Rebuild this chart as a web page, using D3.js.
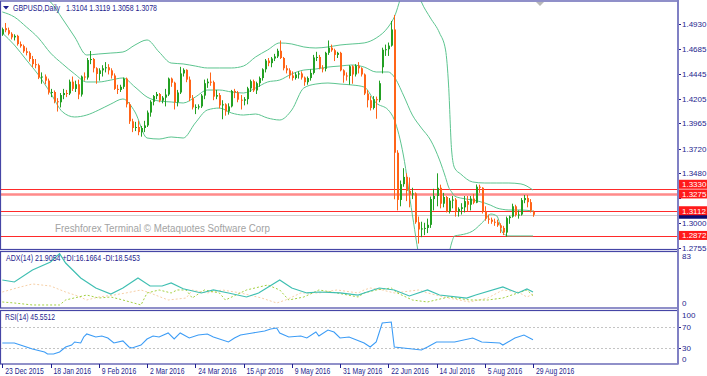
<!DOCTYPE html>
<html lang="en">
<head>
<meta charset="UTF-8">
<title>GBPUSD Daily</title>
<style>
    body { margin: 0; background: #fff; }
    svg { display: block; font-family: "Liberation Sans", Arial, sans-serif; }
</style>
</head>
<body>
<div id="chart"></div>
<script src="https://d3js.org/d3.v7.min.js"></script>
<script>

// daily bars, index 0 = 23 Dec 2015 ... index 176 = 29 Aug 2016
const opens = [
    1.4830,1.4890,1.4870,1.4835,1.4800,1.4815,1.4735,1.4715,1.4665,1.4650,
    1.4590,1.4540,1.4530,1.4410,1.4420,1.4380,1.4265,1.4270,1.4180,1.4170,
    1.4240,1.4260,1.4255,1.4370,1.4300,1.4345,1.4245,1.4420,1.4410,1.4580,
    1.4590,1.4500,1.4445,1.4480,1.4500,1.4510,1.4480,1.4430,1.4300,1.4290,
    1.4320,1.4400,1.4150,1.3985,1.3920,1.3930,1.3880,1.3920,1.3945,1.4070,
    1.4175,1.4230,1.4250,1.4185,1.4215,1.4245,1.4400,1.4360,1.4170,1.4265,
    1.4450,1.4485,1.4390,1.4210,1.4120,1.4125,1.4130,1.4235,1.4355,1.4370,
    1.4365,1.4225,1.4240,1.4140,1.4150,1.4080,1.4130,1.4280,1.4265,1.4195,
    1.4185,1.4200,1.4305,1.4375,1.4285,1.4355,1.4405,1.4490,1.4575,1.4550,
    1.4595,1.4615,1.4670,1.4600,1.4500,1.4480,1.4430,1.4405,1.4440,1.4450,
    1.4410,1.4365,1.4405,1.4455,1.4605,1.4610,1.4500,1.4495,1.4650,1.4700,
    1.4675,1.4630,1.4650,1.4480,1.4430,1.4425,1.4520,1.4440,1.4525,1.4500,
    1.4440,1.4255,1.4190,1.4115,1.4200,1.4190,1.4510,1.4680,1.4685,1.4720,
    1.4877,1.3680,1.3222,1.3375,1.3445,1.3310,1.3275,1.3285,1.3005,1.2935,
    1.2945,1.2950,1.2980,1.3230,1.3260,1.3340,1.3185,1.3250,1.3110,1.3215,
    1.3225,1.3110,1.3135,1.3150,1.3210,1.3175,1.3235,1.3195,1.3350,1.3340,
    1.3110,1.3040,1.3030,1.3010,1.3005,1.2975,1.2950,1.2905,1.3045,1.3060,
    1.3160,1.3075,1.3080,1.3220,1.3240,1.3200,1.3104];
const highs = [
    1.4895,1.4940,1.4895,1.4850,1.4830,1.4825,1.4760,1.4730,1.4700,1.4665,
    1.4620,1.4590,1.4545,1.4460,1.4440,1.4400,1.4300,1.4285,1.4210,1.4260,
    1.4300,1.4290,1.4390,1.4420,1.4380,1.4390,1.4430,1.4460,1.4600,1.4668,
    1.4600,1.4510,1.4500,1.4530,1.4560,1.4540,1.4500,1.4450,1.4340,1.4340,
    1.4410,1.4410,1.4170,1.4010,1.3980,1.3990,1.3940,1.3990,1.4090,1.4190,
    1.4240,1.4270,1.4260,1.4230,1.4300,1.4410,1.4410,1.4370,1.4290,1.4514,
    1.4500,1.4490,1.4420,1.4240,1.4150,1.4150,1.4250,1.4390,1.4400,1.4459,
    1.4380,1.4290,1.4260,1.4190,1.4160,1.4160,1.4290,1.4300,1.4280,1.4240,
    1.4220,1.4320,1.4390,1.4390,1.4370,1.4420,1.4500,1.4590,1.4600,1.4610,
    1.4640,1.4690,1.4770,1.4610,1.4530,1.4500,1.4470,1.4460,1.4470,1.4470,
    1.4420,1.4420,1.4490,1.4630,1.4660,1.4630,1.4530,1.4660,1.4770,1.4730,
    1.4690,1.4660,1.4660,1.4490,1.4460,1.4530,1.4530,1.4540,1.4560,1.4510,
    1.4450,1.4290,1.4230,1.4230,1.4225,1.4380,1.4700,1.4730,1.4750,1.4960,
    1.5018,1.3705,1.3410,1.3530,1.3480,1.3440,1.3340,1.3295,1.3060,1.3010,
    1.3000,1.3040,1.3255,1.3330,1.3480,1.3370,1.3290,1.3260,1.3240,1.3260,
    1.3240,1.3150,1.3190,1.3260,1.3260,1.3260,1.3280,1.3372,1.3370,1.3345,
    1.3160,1.3080,1.3050,1.3040,1.3030,1.2995,1.2970,1.3060,1.3070,1.3185,
    1.3175,1.3120,1.3240,1.3270,1.3270,1.3230,1.3119];
const lows = [
    1.4815,1.4850,1.4820,1.4780,1.4770,1.4720,1.4700,1.4650,1.4625,1.4565,
    1.4510,1.4500,1.4395,1.4350,1.4345,1.4245,1.4220,1.4160,1.4080,1.4120,
    1.4200,1.4220,1.4240,1.4280,1.4270,1.4200,1.4225,1.4380,1.4390,1.4540,
    1.4460,1.4350,1.4380,1.4420,1.4460,1.4440,1.4400,1.4290,1.4250,1.4270,
    1.4300,1.4120,1.3960,1.3880,1.3890,1.3850,1.3836,1.3880,1.3930,1.4030,
    1.4140,1.4200,1.4170,1.4160,1.4130,1.4230,1.4320,1.4100,1.4130,1.4250,
    1.4420,1.4365,1.4180,1.4100,1.4055,1.4100,1.4115,1.4200,1.4310,1.4330,
    1.4190,1.4200,1.4110,1.4005,1.4040,1.4050,1.4120,1.4210,1.4170,1.4100,
    1.4140,1.4150,1.4270,1.4270,1.4250,1.4320,1.4380,1.4460,1.4520,1.4510,
    1.4570,1.4600,1.4590,1.4480,1.4450,1.4400,1.4380,1.4390,1.4400,1.4390,
    1.4330,1.4340,1.4380,1.4440,1.4570,1.4490,1.4460,1.4470,1.4630,1.4660,
    1.4570,1.4600,1.4470,1.4360,1.4380,1.4340,1.4350,1.4420,1.4450,1.4420,
    1.4240,1.4120,1.4090,1.4100,1.4010,1.4170,1.4450,1.4620,1.4620,1.4710,
    1.3228,1.3120,1.3160,1.3350,1.3210,1.3150,1.3230,1.2990,1.2798,1.2860,
    1.2880,1.2900,1.2950,1.3120,1.3160,1.3140,1.3150,1.3100,1.3090,1.3140,
    1.3060,1.3060,1.3080,1.3100,1.3110,1.3120,1.3180,1.3190,1.3290,1.3090,
    1.3020,1.2990,1.2990,1.2970,1.2960,1.2900,1.2880,1.2865,1.2990,1.3050,
    1.3060,1.3040,1.3070,1.3190,1.3150,1.3100,1.3058];
const closes = [
    1.4880,1.4870,1.4835,1.4800,1.4815,1.4735,1.4715,1.4665,1.4650,1.4590,
    1.4540,1.4530,1.4410,1.4420,1.4380,1.4265,1.4270,1.4180,1.4170,1.4240,
    1.4260,1.4255,1.4370,1.4300,1.4345,1.4245,1.4420,1.4410,1.4580,1.4590,
    1.4500,1.4445,1.4480,1.4500,1.4510,1.4480,1.4430,1.4300,1.4290,1.4320,
    1.4400,1.4150,1.3985,1.3920,1.3930,1.3880,1.3920,1.3945,1.4070,1.4175,
    1.4230,1.4250,1.4185,1.4215,1.4245,1.4400,1.4360,1.4170,1.4265,1.4450,
    1.4485,1.4390,1.4210,1.4120,1.4125,1.4130,1.4235,1.4355,1.4370,1.4365,
    1.4225,1.4240,1.4140,1.4150,1.4080,1.4130,1.4280,1.4265,1.4195,1.4185,
    1.4200,1.4305,1.4375,1.4285,1.4355,1.4405,1.4490,1.4575,1.4550,1.4595,
    1.4615,1.4670,1.4600,1.4500,1.4480,1.4430,1.4405,1.4440,1.4450,1.4410,
    1.4365,1.4405,1.4455,1.4605,1.4610,1.4500,1.4495,1.4650,1.4700,1.4675,
    1.4630,1.4650,1.4480,1.4430,1.4425,1.4520,1.4440,1.4525,1.4500,1.4440,
    1.4255,1.4190,1.4115,1.4200,1.4190,1.4355,1.4680,1.4685,1.4720,1.4877,
    1.3680,1.3222,1.3375,1.3445,1.3310,1.3275,1.3285,1.3005,1.2935,1.2945,
    1.2950,1.2980,1.3230,1.3260,1.3340,1.3185,1.3250,1.3110,1.3215,1.3225,
    1.3110,1.3135,1.3150,1.3210,1.3175,1.3235,1.3195,1.3350,1.3340,1.3110,
    1.3040,1.3030,1.3010,1.3005,1.2975,1.2950,1.2905,1.3045,1.3060,1.3160,
    1.3075,1.3080,1.3220,1.3240,1.3200,1.3120,1.3078];

// Bollinger bands (20, 2) at these bar indices
const bandIdx = [0,4,8,12,16,20,24,28,32,36,40,44,48,52,56,60,64,68,72,76,80,84,88,92,96,100,104,108,112,116,120,124,128,
    130,133,136,139,142,145,147,148,149,150,152,156,160,162,164,166,168,172,176];
const bandUpper = [1.5280,1.5270,1.5250,1.5212,1.5144,1.4979,1.4804,1.4629,1.4639,1.4648,1.4658,1.4726,1.4775,1.4658,1.4551,1.4542,
    1.4522,1.4503,1.4503,1.4503,1.4522,1.4610,1.4678,1.4746,1.4736,1.4707,1.4697,1.4707,1.4726,1.4736,1.4746,1.4794,1.4901,
    1.4998,1.5260,1.5406,1.5144,1.4988,1.4843,1.4678,1.4338,1.3707,1.3532,1.3474,1.3396,1.3386,1.3386,1.3386,1.3386,1.3386,1.3377,1.3318];
const bandMiddle = [1.5047,1.4998,1.4901,1.4794,1.4648,1.4542,1.4445,1.4367,1.4367,1.4386,1.4406,1.4318,1.4221,1.4182,1.4173,1.4163,
    1.4221,1.4289,1.4289,1.4270,1.4260,1.4309,1.4367,1.4386,1.4445,1.4483,1.4493,1.4512,1.4522,1.4532,1.4512,1.4464,1.4464,
    1.4415,1.4241,1.4046,1.3920,1.3804,1.3610,1.3440,1.3347,1.3300,1.3260,1.3240,1.3221,1.3192,1.3170,1.3143,1.3130,1.3124,1.3124,1.3114];
const bandLower = [1.4843,1.4726,1.4580,1.4435,1.4260,1.4076,1.4027,1.4046,1.4095,1.4153,1.4202,1.4076,1.3823,1.3813,1.3833,1.3823,
    1.3969,1.4095,1.4114,1.4066,1.4046,1.4056,1.4017,1.3998,1.4095,1.4309,1.4347,1.4357,1.4347,1.4338,1.4318,1.4163,1.4095,
    1.4000,1.3658,1.3076,1.2560,1.2400,1.2440,1.2600,1.2687,1.2803,1.2872,1.2882,1.2920,1.3027,1.3085,1.3066,1.2901,1.2872,1.2872,1.2872];

// ADX(14) panel
const adxIdx = [0,4,10,16,19,21,26,31,36,40,45,49,53,56,60,66,70,75,81,85,92,96,101,105,112,118,120,125,130,135,141,145,154,157,166,171,174,176];
const adxVals = [40.7,37.6,56.4,68.9,82.0,67.3,43.8,28.2,18.8,28.2,43.8,31.3,31.3,36.0,27.0,20.4,25.1,20.4,14.1,20.4,
    40.7,28.2,20.4,21.9,20.4,17.2,20.4,28.2,25.1,15.7,25.1,17.2,12.5,17.2,29.8,20.4,26.6,21.9];
const plusIdx = [0,4,10,19,21,28,32,36,40,46,48,52,56,58,61,63,67,72,74,81,88,92,95,100,105,111,118,120,124,129,131,136,141,148,155,161,166,171,174,176];
const plusDI = [6.3,4.7,1.6,1.6,9.4,17.2,12.5,14.1,9.4,1.6,20.4,25.1,20.4,25.1,25.1,12.5,25.1,20.4,9.4,25.1,
    32.9,25.1,9.4,14.1,25.1,20.4,14.1,20.4,25.1,28.2,20.4,9.4,6.3,14.1,9.4,9.4,12.5,20.4,25.1,16.2];
const minusIdx = [0,6,10,16,21,25,28,32,37,41,46,49,55,61,63,68,73,79,86,91,94,99,105,111,118,120,122,126,130,138,141,148,155,161,166,171,174,176];
const minusDI = [21.9,29.8,34.5,31.3,21.9,15.7,9.4,14.1,17.2,20.4,25.1,20.4,9.4,12.5,25.1,20.4,25.1,20.4,12.5,4.7,
    9.4,20.4,20.4,25.1,20.4,25.1,28.2,25.1,20.4,25.1,20.4,12.5,6.3,12.5,25.1,21.9,14.1,18.5];

// RSI(14) panel
const rsiIdx = [0,4,8,10,14,15,17,19,21,23,24,26,27,28,31,33,35,37,40,42,43,46,48,50,52,55,57,59,62,65,68,70,75,77,79,83,87,89,91,92,
    95,99,101,104,105,108,110,112,115,120,122,124,126,129,130,133,139,141,144,150,156,159,165,166,170,173,176];
const rsiVals = [39.4,39.4,31.9,28.1,22.5,18.8,18.8,22.5,31.9,35.6,41.3,39.4,50.7,56.3,50.7,52.5,48.8,39.4,43.2,31.9,
    30.0,35.6,46.9,52.5,50.7,58.2,46.9,58.2,48.8,54.4,56.3,50.7,41.3,48.8,54.4,58.2,61.9,65.7,67.5,58.2,
    50.7,52.5,48.8,60.0,52.5,63.8,60.0,48.8,50.7,39.4,31.9,41.3,76.9,78.8,31.9,30.0,26.3,31.9,41.3,41.3,
    48.8,41.3,39.4,35.6,48.8,54.4,45.6];

// axes
const priceTicks = [1.4930,1.4685,1.4445,1.4205,1.3965,1.3720,1.3480,1.3240,1.3000,1.2755];
const hiddenTick = 1.3240; // covered by the price tags on the chart
const dateIdx = [0,16,32,48,64,80,96,112,128,144,160,176];
const dateLabels = ["23 Dec 2015","18 Jan 2016","9 Feb 2016","2 Mar 2016","24 Mar 2016","15 Apr 2016",
    "9 May 2016","31 May 2016","22 Jun 2016","14 Jul 2016","5 Aug 2016","29 Aug 2016"];
const levels = [1.3330, 1.3275, 1.3112, 1.2872];
const bid = 1.3078;
const title = "GBPUSD,Daily";
const titleQuote = "1.3104 1.3119 1.3058 1.3078";
const adxLabel = "ADX(14) 21.9054 +DI:16.1664 -DI:18.5453";
const rsiLabel = "RSI(14) 45.5512";

const W = 707, H = 376;
const axisX = 678;
const frame = "#4646a6", textCol = "#1e1e8e";
const bull = "#23a023", bear = "#ff6418";

// terminal font is narrow: squeeze a text to a given width
function fit(sel, width) {
    sel.attr("textLength", width).attr("lengthAdjust", "spacingAndGlyphs");
    return sel;
}

const svg = d3.select("#chart").append("svg")
    .attr("width", W).attr("height", H);

// panels: main, adx, rsi
const pMain = { top: 1, bottom: 249.5 };
const pAdx = { top: 251.5, bottom: 308 };
const pRsi = { top: 310.5, bottom: 364 };

const x = d3.scaleLinear().domain([0, 176]).range([2.3, 533]);
const y = d3.scaleLinear().domain([1.2755, 1.4930]).range([248, 24]);
const yAdx = d3.scaleLinear().domain([0, 83]).range([306, 253]);
const yRsi = d3.scaleLinear().domain([0, 100]).range([364, 310.7]);

const defs = svg.append("defs");
[["clipMain", pMain], ["clipAdx", pAdx], ["clipRsi", pRsi]].forEach(([id, p]) => {
    defs.append("clipPath").attr("id", id).append("rect")
        .attr("x", 1).attr("y", p.top + 0.5)
        .attr("width", axisX - 1).attr("height", p.bottom - p.top - 1);
});

// ---------- main panel ----------
const gMain = svg.append("g").attr("clip-path", "url(#clipMain)");

// watermark
fit(gMain.append("text")
    .attr("x", 55).attr("y", 232)
    .attr("fill", "#a3a3a3").style("font-size", "10.5px")
    .text("Freshforex Terminal \u00a9 Metaquotes Software Corp"), 215);

// bid line
gMain.append("line")
    .attr("x1", 1).attr("x2", axisX)
    .attr("y1", Math.round(y(bid)) + 0.5).attr("y2", Math.round(y(bid)) + 0.5)
    .attr("stroke", "#cfcfcf");

// horizontal levels
gMain.selectAll("line.level").data(levels).join("line")
    .attr("class", "level")
    .attr("x1", 1).attr("x2", axisX)
    .attr("y1", d => Math.round(y(d)) + 0.5).attr("y2", d => Math.round(y(d)) + 0.5)
    .attr("stroke", (d, i) => i === 1 ? "#ff8a8a" : "#ff2a2a")
    .attr("stroke-width", (d, i) => i === 1 ? 2.5 : 1);

// bollinger bands
const bandLine = vals => d3.line()
    .x((d, i) => x(bandIdx[i]))
    .y((d, i) => y(vals[i]))
    .curve(d3.curveMonotoneX)(vals);
[bandUpper, bandMiddle, bandLower].forEach(vals => {
    gMain.append("path")
        .attr("d", bandLine(vals))
        .attr("fill", "none")
        .attr("stroke", "#5cc48f")
        .attr("stroke-width", 1);
});

// candles
const bars = closes.map((c, i) => ({ i, o: opens[i], h: highs[i], l: lows[i], c }));
const gBars = gMain.append("g");
gBars.selectAll("line").data(bars).join("line")
    .attr("x1", d => Math.round(x(d.i)) + 0.5).attr("x2", d => Math.round(x(d.i)) + 0.5)
    .attr("y1", d => y(d.h)).attr("y2", d => y(d.l))
    .attr("stroke", d => d.c >= d.o ? bull : bear);
gBars.selectAll("rect").data(bars).join("rect")
    .attr("x", d => Math.round(x(d.i)))
    .attr("width", 2)
    .attr("y", d => y(Math.max(d.o, d.c)))
    .attr("height", d => Math.max(1, Math.abs(y(d.o) - y(d.c))))
    .attr("fill", d => d.c >= d.o ? bull : bear);

// title
svg.append("path").attr("d", "M3,6 L9,6 L6,9.5 Z").attr("fill", textCol);
fit(svg.append("text").attr("x", 13).attr("y", 11)
    .attr("fill", textCol).style("font-size", "8.5px")
    .text(title), 47);
fit(svg.append("text").attr("x", 66).attr("y", 11)
    .attr("fill", textCol).style("font-size", "8.5px")
    .text(titleQuote), 91);

// chart shift marker
svg.append("path").attr("d", "M536,2 L544,2 L540,6 Z").attr("fill", "#b8b8b8");

// ---------- ADX panel ----------
const gAdx = svg.append("g").attr("clip-path", "url(#clipAdx)");
const lineOf = (idx, ys) => d3.line().x((d, i) => x(idx[i])).y(d => ys(d));
gAdx.append("path")
    .attr("d", lineOf(minusIdx, yAdx)(minusDI))
    .attr("fill", "none").attr("stroke", "#f6cfa6").attr("stroke-dasharray", "2,2");
gAdx.append("path")
    .attr("d", lineOf(plusIdx, yAdx)(plusDI))
    .attr("fill", "none").attr("stroke", "#a3d040").attr("stroke-dasharray", "2,2");
gAdx.append("path")
    .attr("d", lineOf(adxIdx, yAdx)(adxVals))
    .attr("fill", "none").attr("stroke", "#3fbfb2").attr("stroke-width", 1.2);
fit(svg.append("text").attr("x", 6).attr("y", 261)
    .attr("fill", textCol).style("font-size", "8.5px")
    .text(adxLabel), 134);

// ---------- RSI panel ----------
const gRsi = svg.append("g").attr("clip-path", "url(#clipRsi)");
gRsi.selectAll("line.lvl").data([70, 30]).join("line")
    .attr("x1", 1).attr("x2", axisX)
    .attr("y1", d => Math.round(yRsi(d)) + 0.5).attr("y2", d => Math.round(yRsi(d)) + 0.5)
    .attr("stroke", "#c4c4c4").attr("stroke-dasharray", "2,2");
gRsi.append("path")
    .attr("d", lineOf(rsiIdx, yRsi)(rsiVals))
    .attr("fill", "none").attr("stroke", "#3c9cf6").attr("stroke-width", 1.1);
fit(svg.append("text").attr("x", 5).attr("y", 320)
    .attr("fill", textCol).style("font-size", "8.5px")
    .text(rsiLabel), 50);

// ---------- frames ----------
[pMain, pAdx, pRsi].forEach(p => {
    svg.append("rect")
        .attr("x", 0.5).attr("y", p.top)
        .attr("width", axisX - 0.5).attr("height", p.bottom - p.top)
        .attr("fill", "none").attr("stroke", frame).attr("stroke-width", 1.2);
});
svg.append("line")
    .attr("x1", axisX).attr("x2", axisX).attr("y1", 0).attr("y2", pRsi.bottom)
    .attr("stroke", "#8080c4").attr("stroke-width", 2);

// ---------- price axis ----------
const gY = svg.append("g").style("font-size", "8px").attr("fill", textCol);
gY.selectAll("line").data(priceTicks).join("line")
    .attr("x1", axisX + 1).attr("x2", axisX + 3)
    .attr("y1", d => Math.round(y(d)) + 0.5).attr("y2", d => Math.round(y(d)) + 0.5)
    .attr("stroke", textCol);
gY.selectAll("text").data(priceTicks.filter(d => d !== hiddenTick)).join("text")
    .attr("x", axisX + 4).attr("y", d => y(d) + 3)
    .text(d => d.toFixed(4));

// price tags on the right (stacked tags nudged apart so they stay readable)
const tag = (p, col, cy, showText = true, h = 9) => {
    svg.append("rect").attr("x", axisX + 1).attr("y", cy - h / 2)
        .attr("width", W - axisX).attr("height", h).attr("fill", col);
    if (showText) {
        svg.append("text").attr("x", axisX + 4).attr("y", cy + 3)
            .attr("fill", "#fff").style("font-size", "8px").text(p.toFixed(4));
    }
};
tag(levels[0], "#ff1a1a", y(levels[0]) - 4.5);
tag(levels[1], "#ff1a1a", y(levels[1]) - 0.5);
tag(bid, "#0c0c70", y(levels[2]) + 5.5, false, 4);
tag(levels[2], "#ff1a1a", y(levels[2]) - 0.5);
tag(levels[3], "#ff1a1a", y(levels[3]) - 0.5);

// indicator scales
const sideText = (v, yy) => svg.append("text").attr("x", axisX + 4).attr("y", yy)
    .attr("fill", textCol).style("font-size", "8px").text(v);
sideText("83", 259);
sideText("0", 306);
sideText("100", 318);
sideText("70", yRsi(70) + 3);
sideText("30", yRsi(30) + 3);
sideText("0", 362);
[70, 30].forEach(v => svg.append("line")
    .attr("x1", axisX + 1).attr("x2", axisX + 3)
    .attr("y1", Math.round(yRsi(v)) + 0.5).attr("y2", Math.round(yRsi(v)) + 0.5)
    .attr("stroke", textCol));

// ---------- date axis ----------
const gX = svg.append("g").style("font-size", "8.5px").attr("fill", textCol);
gX.selectAll("line").data(dateIdx).join("line")
    .attr("x1", d => Math.round(x(d)) + 0.5).attr("x2", d => Math.round(x(d)) + 0.5)
    .attr("y1", pRsi.bottom).attr("y2", pRsi.bottom + 4)
    .attr("stroke", textCol);
gX.selectAll("text").data(dateIdx).join("text")
    .attr("x", d => x(d) + 3).attr("y", 374)
    .text((d, i) => dateLabels[i])
    .each(function () {
        // squeeze to the narrow terminal font width
        fit(d3.select(this), this.getComputedTextLength() * 0.8);
    });

</script>
</body>
</html>
